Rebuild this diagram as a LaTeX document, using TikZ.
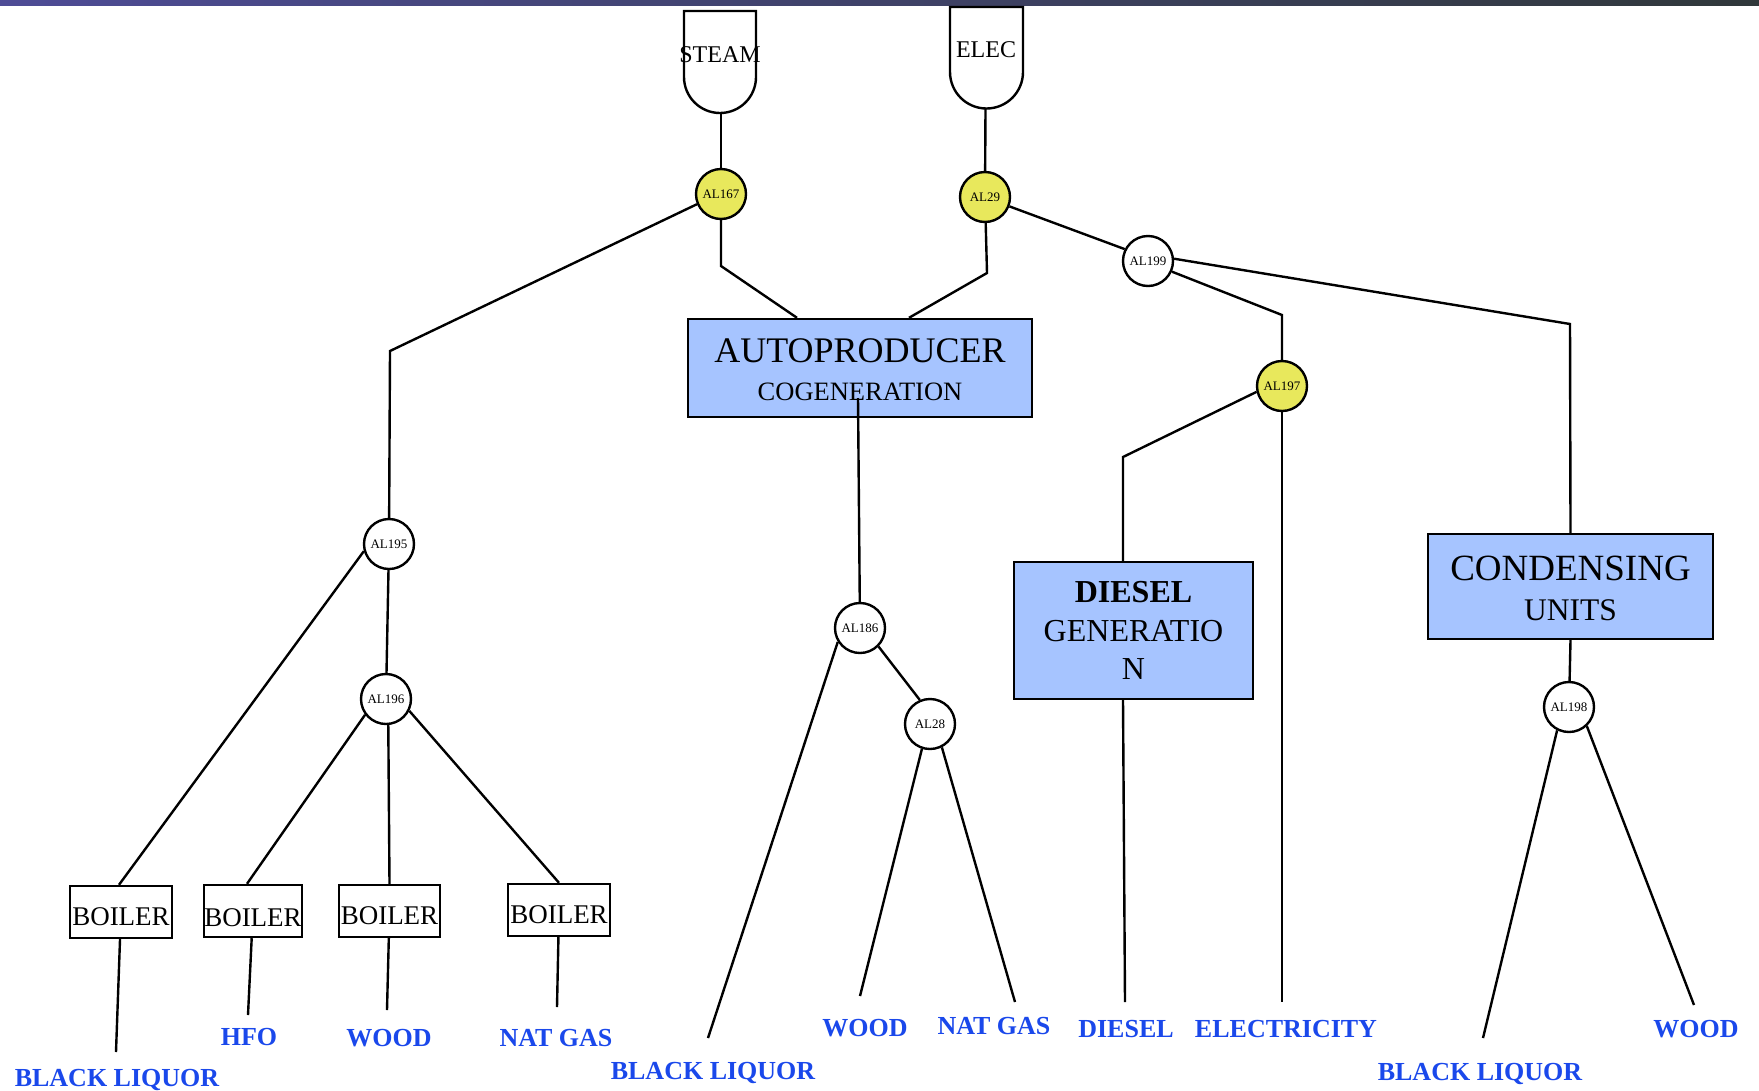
\documentclass[tikz,border=0pt]{standalone}
\usepackage{fontspec}
\setmainfont{Liberation Serif}
\usetikzlibrary{positioning}
\definecolor{hubyellow}{RGB}{232,232,92}
\definecolor{plantblue}{RGB}{166,196,255}
\definecolor{fuelblue}{RGB}{26,72,235}
\definecolor{stripL}{RGB}{78,76,150}
\definecolor{stripM}{RGB}{70,78,60}
\definecolor{stripR}{RGB}{48,56,58}
\newcommand{\fsz}[1]{\fontsize{#1}{#1}\selectfont}

\begin{document}
\begin{tikzpicture}[x=1pt,y=-1pt,line width=2.4pt,
  junc/.style={circle,draw,fill=white,minimum size=50pt,inner sep=0pt,font=\fsz{13}},
  hub/.style={junc,fill=hubyellow},
  plant/.style={draw,fill=plantblue,align=center,inner sep=0pt},
  boiler/.style={draw,minimum width=100pt,minimum height=52pt,inner sep=0pt,
                 text height=26pt,text depth=0pt,font=\fsz{27}},
  fuel/.style={text=fuelblue,inner sep=0pt,font=\bfseries\fsz{26}}]

            \useasboundingbox (0,0) rectangle (1759,1090);
            \shade[left color=stripL,middle color=stripM,right color=stripR] (0,0) rectangle (1759,5);

            % demand shapes
            \draw (684,11) -- (684,77) arc[start angle=180,end angle=360,radius=36pt] -- (756,11) -- cycle;
            \draw (950,7) -- (950,72) arc[start angle=180,end angle=360,radius=36.5pt] -- (1023,7) -- cycle;
            \node[font=\fsz{24}] (steam) at (720,55) {STEAM};
            \node[font=\fsz{24}] (elec) at (986,50) {ELEC};
            \coordinate (steambot) at (721,113);
            \coordinate (elecbot) at (985.5,108.5);

            % allocation nodes
            \node[hub] (al167) at (721,194) {AL167};
            \node[hub] (al29) at (985,197) {AL29};
            \node[junc] (al199) at (1148,261) {AL199};
            \node[hub] (al197) at (1282,386) {AL197};
            \node[junc] (al195) at (389,544) {AL195};
            \node[junc] (al196) at (386,699) {AL196};
            \node[junc] (al186) at (860,628) {AL186};
            \node[junc] (al28) at (930,724) {AL28};
            \node[junc] (al198) at (1569,707) {AL198};

            % plants
            \node[plant,minimum width=344pt,minimum height=98pt,font=\fontsize{36}{38}\selectfont] (auto) at (860,368)
                {\strut AUTOPRODUCER\\{\fontsize{26.5}{38}\selectfont COGENERATION}};
            \node[plant,minimum width=239pt,minimum height=137pt,font=\fontsize{32}{38.5}\selectfont] (diesel) at (1133.5,630.5)
                {\textbf{DIESEL}\\GENERATIO\\N};
            \node[plant,minimum width=285pt,minimum height=105pt,font=\fontsize{37}{40}\selectfont] (cond) at (1570.5,586.5)
                {\strut CONDENSING\\{\fontsize{31.5}{40}\selectfont UNITS}};
            \coordinate (autoin) at (858,398);

            \node[boiler,minimum width=102pt] (b1) at (121,912) {BOILER};
            \node[boiler,minimum width=96pt,text height=30pt] (b2) at (253,911) {BOILER};
            \node[boiler,minimum width=101pt] (b3) at (389.5,911) {BOILER};
            \node[boiler,minimum width=102pt] (b4) at (559,910) {BOILER};

            % fuels
            \node[fuel] (bl1) at (117,1080) {BLACK LIQUOR};
            \node[fuel] (hfo) at (249,1037) {HFO};
            \node[fuel] (wood1) at (389,1038) {WOOD};
            \node[fuel] (gas1) at (556,1038) {NAT GAS};
            \node[fuel] (bl2) at (713,1073) {BLACK LIQUOR};
            \node[fuel] (wood2) at (865,1028) {WOOD};
            \node[fuel] (gas2) at (994,1026) {NAT GAS};
            \node[fuel] (dsl) at (1126,1029) {DIESEL};
            \node[fuel] (elecf) at (1286,1029) {ELECTRICITY};
            \node[fuel] (bl3) at (1480,1074) {BLACK LIQUOR};
            \node[fuel] (wood3) at (1696,1029) {WOOD};

            \coordinate (bl1end) at (116,1052);
            \coordinate (hfoend) at (248,1015);
            \coordinate (wood1end) at (387,1010);
            \coordinate (gas1end) at (557,1007);
            \coordinate (bl2end) at (708,1038);
            \coordinate (wood2end) at (860,996);
            \coordinate (gas2end) at (1015,1002);
            \coordinate (dslend) at (1125,1002);
            \coordinate (elecend) at (1282,1002);
            \coordinate (bl3end) at (1483,1038);
            \coordinate (wood3end) at (1694,1005);

            % bends
            \coordinate (kA) at (390,351);
            \coordinate (kB) at (721,266);
            \coordinate (kC) at (987,273);
            \coordinate (kD) at (1570,324);
            \coordinate (kE) at (1282,315);
            \coordinate (kF) at (1123,457);

            \path (steambot) edge (al167)
                  (elecbot) edge (al29)
                  (al29.339) edge (al199.153)
                  (al197) edge (elecend)
                  (autoin) edge (al186)
                  (al186.212) edge (bl2end)
                  (al186.315) edge (al28.113)
                  (al28.252) edge (wood2end)
                  (al28.297) edge (gas2end)
                  (cond.south) edge (al198)
                  (al198.243) edge (bl3end)
                  (al198.313) edge (wood3end)
                  (al195.196) edge ([xshift=-2pt]b1.north)
                  (al195) edge (al196)
                  (al196.217) edge ([xshift=-6pt]b2.north)
                  (al196.275) edge (b3.north)
                  (al196.333) edge (b4.north)
                  (b1) edge (bl1end)
                  (b2) edge (hfoend)
                  (b3) edge (wood1end)
                  (b4) edge (gas1end)
                  (kF |- diesel.south) edge (dslend);

            \draw (al167.203) -- (kA) -- (al195);
            \draw (al167) -- (kB) -- ([xshift=-63pt]auto.north);
            \draw (al29) -- (kC) -- ([xshift=49pt]auto.north);
            \draw (al199.5) -- (kD) -- (cond.north);
            \draw (al199.336) -- (kE) -- (al197);
            \draw (al197.193) -- (kF) -- (kF |- diesel.north);

        \end{tikzpicture}
\end{document}
